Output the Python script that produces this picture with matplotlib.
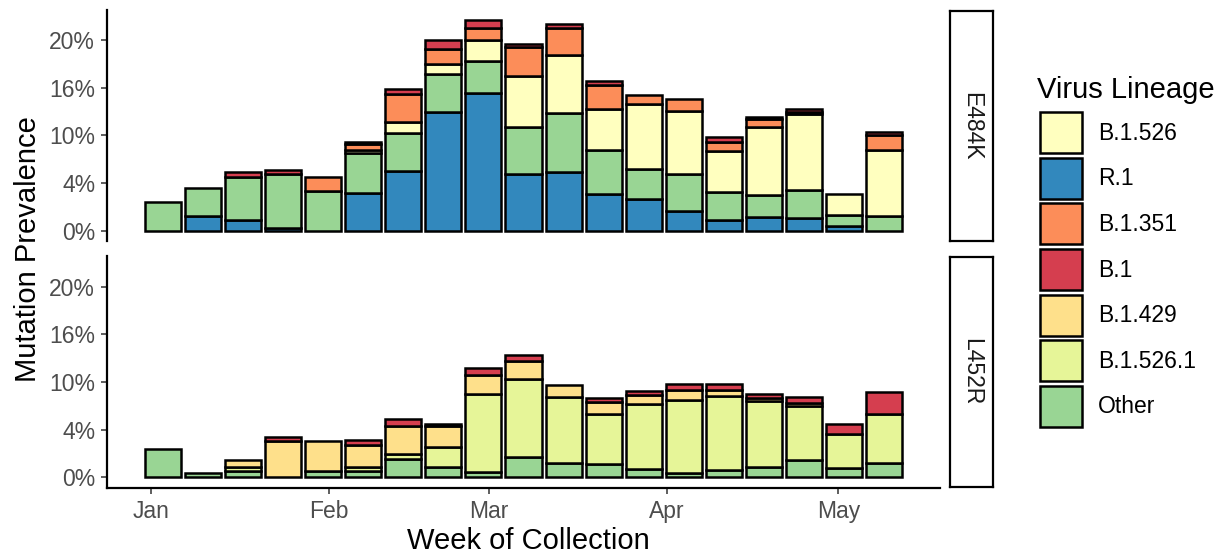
import numpy as np
import matplotlib.pyplot as plt
import matplotlib.dates as mdates
from matplotlib.patches import Patch

plt.rcParams['font.family'] = ['Liberation Sans', 'DejaVu Sans']

# week of collection (start of week)
weeks = ['2021-01-03', '2021-01-10', '2021-01-17', '2021-01-24', '2021-01-31',
         '2021-02-07', '2021-02-14', '2021-02-21', '2021-02-28', '2021-03-07',
         '2021-03-14', '2021-03-21', '2021-03-28', '2021-04-04', '2021-04-11',
         '2021-04-18', '2021-04-25', '2021-05-02', '2021-05-09']

# legend order and stacking order (bottom -> top)
legend_order = ['B.1.526', 'R.1', 'B.1.351', 'B.1', 'B.1.429', 'B.1.526.1', 'Other']
stack_order = ['R.1', 'Other', 'B.1.526.1', 'B.1.526', 'B.1.429', 'B.1.351', 'B.1']
colors = {'B.1.526': '#FFFFBF', 'R.1': '#3288BD', 'B.1.351': '#FC8D59',
          'B.1': '#D53E4F', 'B.1.429': '#FEE08B', 'B.1.526.1': '#E6F598',
          'Other': '#99D594'}

# E484K panel (values in axis units)
e484k_r1 = [0, 1.5, 1.08, 0.25, 0, 3.94, 6.28, 12.46, 14.49, 5.97, 6.14, 3.84, 3.32, 2.06, 1.15, 1.4, 1.33, 0.45, 0]
e484k_other = [3.0, 2.93, 4.57, 5.72, 4.19, 4.19, 3.95, 3.98, 3.31, 4.92, 6.18, 4.64, 3.14, 3.91, 2.86, 2.37, 2.89, 1.23, 1.5]
e484k_b1526 = [0, 0, 0, 0, 0, 0.3, 1.22, 1.12, 2.27, 5.34, 6.18, 4.29, 6.84, 6.56, 4.4, 7.15, 8.0, 2.19, 6.98]
e484k_b1351 = [0, 0, 0, 0, 1.46, 0.63, 2.86, 1.57, 1.19, 3.07, 2.76, 2.52, 0.91, 1.26, 0.94, 0.81, 0.28, 0, 1.57]
e484k_b1 = [0, 0, 0.49, 0.38, 0, 0.22, 0.59, 0.94, 0.83, 0.28, 0.49, 0.45, 0, 0, 0.46, 0.24, 0.31, 0, 0.35]

# L452R panel
l452r_other = [2.98, 0.46, 0.7, 0, 0.7, 0.7, 1.93, 1.12, 0.53, 2.1, 1.54, 1.4, 0.88, 0.46, 0.8, 1.12, 1.82, 0.98, 1.5]
l452r_b15261 = [0, 0, 0.35, 0, 0, 0.35, 0.53, 2.04, 8.24, 8.25, 6.88, 5.27, 6.77, 7.61, 7.73, 6.88, 5.65, 3.58, 5.1]
l452r_b1429 = [0, 0, 0.77, 3.86, 3.16, 2.35, 2.91, 2.21, 2.0, 1.83, 1.23, 1.22, 0.95, 1.05, 0.59, 0.35, 0.35, 0, 0]
l452r_b1 = [0, 0, 0, 0.35, 0, 0.56, 0.7, 0.24, 0.73, 0.62, 0, 0.46, 0.42, 0.7, 0.7, 0.35, 0.6, 1.05, 2.35]

y_ticks = [0, 5, 10, 15, 20]
y_tick_labels = ['0%', '4%', '10%', '16%', '20%']

panels = [
    ('E484K', {'R.1': e484k_r1, 'Other': e484k_other, 'B.1.526': e484k_b1526,
               'B.1.351': e484k_b1351, 'B.1': e484k_b1}),
    ('L452R', {'Other': l452r_other, 'B.1.526.1': l452r_b15261,
               'B.1.429': l452r_b1429, 'B.1': l452r_b1}),
]

x = mdates.date2num(np.array(weeks, dtype='datetime64[D]'))
width = 0.9 * 7
lo, hi = x[0] - width / 2, x[-1] + width / 2
pad = 0.05 * (hi - lo)

totals = [np.sum([v for v in d.values()], axis=0) for _, d in panels]
ymax = max(t.max() for t in totals)

W, H = 1220, 555
fig = plt.figure(figsize=(W / 100, H / 100), dpi=100)

def fbox(x0, y0, x1, y1):
    return [x0 / W, 1 - y1 / H, (x1 - x0) / W, (y1 - y0) / H]

boxes = [(107, 10, 940, 241), (107, 256, 940, 488)]
strips = [(950, 11, 993, 241), (950, 257, 993, 487)]

for i, (name, data) in enumerate(panels):
    ax = fig.add_axes(fbox(*boxes[i]))
    bottom = np.zeros(len(weeks))
    for lin in stack_order:
        if lin not in data:
            continue
        vals = np.array(data[lin], dtype=float)
        m = vals > 0
        ax.bar(x[m], vals[m], width=width, bottom=bottom[m], color=colors[lin],
               edgecolor='black', linewidth=1.8, zorder=3)
        bottom += vals
    ax.set_xlim(lo - pad, hi + pad)
    ax.set_ylim(-0.05 * ymax, 1.05 * ymax)
    ax.set_yticks(y_ticks)
    ax.set_yticklabels(y_tick_labels)
    ax.tick_params(axis='y', labelsize=16.5, labelcolor='#4D4D4D', color='#333333',
                   length=4.5, width=1.1, pad=4)
    for s in ['top', 'right']:
        ax.spines[s].set_visible(False)
    ax.spines['left'].set_linewidth(1.6)
    ax.spines['bottom'].set_linewidth(1.6)
    if i == 0:
        ax.spines['bottom'].set_visible(False)
        ax.set_xticks([])
    else:
        ax.xaxis.set_major_locator(mdates.MonthLocator())
        ax.xaxis.set_major_formatter(mdates.DateFormatter('%b'))
        ax.tick_params(axis='x', labelsize=16.5, labelcolor='#4D4D4D', color='#333333',
                       length=4.5, width=1.1, pad=4)

    sax = fig.add_axes(fbox(*strips[i]))
    sax.set_xticks([])
    sax.set_yticks([])
    for s in sax.spines.values():
        s.set_linewidth(1.6)
    sax.text(0.5, 0.5, name, rotation=270, ha='center', va='center',
             fontsize=16.5, color='#1A1A1A', transform=sax.transAxes)

fig.text(28 / W, 1 - 249 / H, 'Mutation Prevalence', rotation=90,
         ha='center', va='center', fontsize=21)
fig.text(528 / W, 1 - 541 / H, 'Week of Collection', ha='center', va='center',
         fontsize=21)

# legend
fig.text(1037 / W, 1 - 98 / H, 'Virus Lineage', ha='left', va='baseline', fontsize=21)
handles = [Patch(facecolor=colors[l], edgecolor='black', linewidth=1.8) for l in legend_order]
fig.legend(handles, legend_order, loc='upper left',
           bbox_to_anchor=(1040 / W, 1 - 112 / H), frameon=False,
           fontsize=16.5, handlelength=1.83, handleheight=2.38, labelspacing=0.2,
           handletextpad=0.7, borderpad=0, borderaxespad=0)

fig.savefig('out.png', dpi=100)
